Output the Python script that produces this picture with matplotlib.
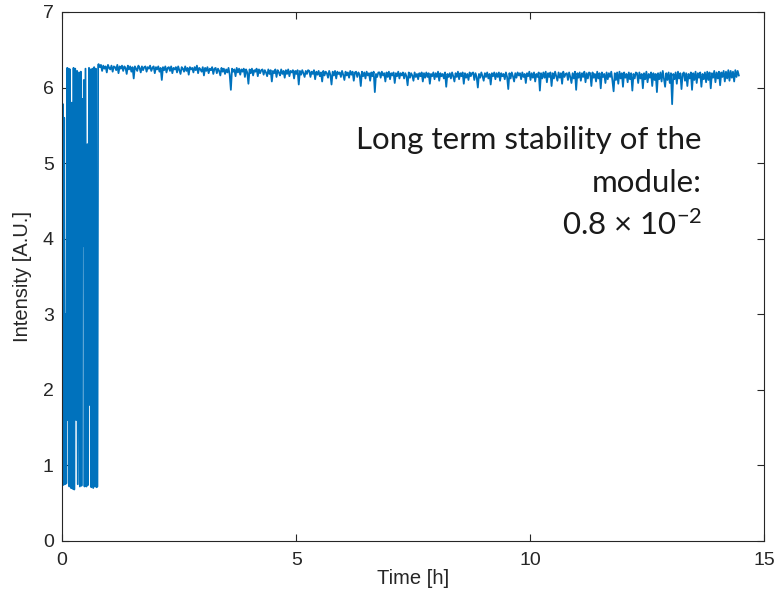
import numpy as np
import matplotlib
matplotlib.use("Agg")
import matplotlib.pyplot as plt

plt.rcParams['font.family'] = ['Liberation Sans', 'DejaVu Sans']
plt.rcParams['mathtext.fontset'] = 'custom'
plt.rcParams['mathtext.rm'] = 'Lato'
plt.rcParams['mathtext.default'] = 'regular'

# warm-up part: intensity jumps between low and high level
t_start = [0.000, 0.010, 0.020, 0.030, 0.045, 0.060, 0.075, 0.090, 0.110, 0.125,
           0.140, 0.155, 0.170, 0.190, 0.210, 0.225, 0.245, 0.260, 0.280, 0.300,
           0.320, 0.335, 0.360, 0.380, 0.400, 0.415, 0.435, 0.450, 0.465, 0.480,
           0.500, 0.520, 0.540, 0.555, 0.575, 0.590, 0.610, 0.625, 0.645, 0.665,
           0.685, 0.700, 0.720, 0.735, 0.755, 0.770]
i_start = [5.80, 0.76, 5.78, 0.74, 5.60, 0.75, 3.00, 0.76, 6.26, 1.60,
           6.25, 0.72, 6.24, 0.70, 5.80, 0.69, 6.26, 0.68, 6.25, 1.60,
           6.22, 0.75, 6.20, 0.72, 6.21, 0.73, 5.85, 3.90, 6.10, 0.72,
           6.25, 0.72, 5.25, 0.74, 6.26, 1.80, 6.24, 0.71, 6.25, 0.70,
           6.27, 0.72, 6.25, 0.71, 0.72, 6.30]

# stable part, one sample every 0.025 h starting at 0.78 h (20 samples per row)
t0_stable = 0.78
dt_stable = 0.025
i_stable = [
    6.31, 6.27, 6.30, 6.22, 6.29, 6.25, 6.28, 6.20, 6.30, 6.26, 6.24, 6.29, 6.21, 6.28, 6.27, 6.23, 6.30, 6.19, 6.28, 6.25,
    6.29, 6.22, 6.28, 6.26, 6.18, 6.29, 6.24, 6.28, 6.21, 6.27, 6.12, 6.28, 6.25, 6.22, 6.29, 6.26, 6.20, 6.28, 6.23, 6.27,
    6.28, 6.21, 6.27, 6.25, 6.29, 6.22, 6.26, 6.28, 6.19, 6.27, 6.24, 6.28, 6.21, 6.26, 6.10, 6.27, 6.23, 6.28, 6.20, 6.26,
    6.27, 6.22, 6.28, 6.19, 6.26, 6.24, 6.27, 6.20, 6.28, 6.23, 6.18, 6.27, 6.25, 6.21, 6.28, 6.22, 6.26, 6.17, 6.27, 6.24,
    6.26, 6.20, 6.27, 6.23, 6.29, 6.19, 6.26, 6.24, 6.21, 6.27, 6.16, 6.26, 6.22, 6.27, 6.19, 6.25, 6.23, 6.27, 6.18, 6.25,
    6.26, 6.19, 6.25, 6.22, 6.16, 6.26, 6.21, 6.25, 6.18, 6.24, 6.20, 6.26, 6.17, 5.97, 6.25, 6.21, 6.24, 6.15, 6.26, 6.20,
    6.25, 6.17, 6.24, 6.21, 6.25, 6.14, 6.24, 6.20, 6.05, 6.24, 6.19, 6.25, 6.16, 6.23, 6.21, 6.25, 6.15, 6.24, 6.19, 6.23,
    6.24, 6.17, 6.23, 6.20, 6.15, 6.24, 6.18, 6.23, 6.08, 6.22, 6.19, 6.24, 6.14, 6.23, 6.20, 6.16, 6.24, 6.18, 6.22, 6.13,
    6.23, 6.18, 6.24, 6.15, 6.22, 6.20, 6.23, 6.12, 6.22, 6.18, 6.23, 6.04, 6.22, 6.17, 6.23, 6.19, 6.14, 6.22, 6.18, 6.23,
    6.22, 6.14, 6.21, 6.18, 6.23, 6.11, 6.21, 6.17, 6.22, 6.15, 6.20, 6.08, 6.22, 6.16, 6.21, 6.19, 6.13, 6.22, 6.17, 6.04,
    6.21, 6.16, 6.22, 6.12, 6.21, 6.18, 6.20, 6.14, 6.22, 6.17, 6.10, 6.21, 6.16, 6.20, 6.13, 6.22, 6.17, 6.21, 6.09, 6.20,
    6.21, 6.14, 6.20, 6.17, 6.02, 6.21, 6.15, 6.20, 6.12, 6.21, 6.16, 6.19, 6.09, 6.20, 6.15, 6.21, 5.94, 6.18, 6.14, 6.20,
    6.20, 6.13, 6.21, 6.16, 6.19, 6.08, 6.20, 6.14, 6.21, 6.11, 6.19, 6.16, 6.20, 6.06, 6.19, 6.15, 6.21, 6.12, 6.19, 6.16,
    6.20, 6.12, 6.19, 6.15, 6.03, 6.20, 6.13, 6.19, 6.16, 6.09, 6.20, 6.14, 6.18, 6.11, 6.19, 6.15, 6.20, 6.08, 6.19, 6.13,
    6.20, 6.14, 6.19, 6.05, 6.18, 6.15, 6.20, 6.11, 6.19, 6.14, 6.21, 6.09, 6.19, 6.15, 6.18, 6.12, 6.20, 6.01, 6.18, 6.14,
    6.19, 6.12, 6.20, 6.15, 6.08, 6.19, 6.14, 6.21, 6.11, 6.19, 6.15, 6.20, 6.05, 6.19, 6.13, 6.18, 6.10, 6.20, 6.15, 6.19,
    6.20, 6.10, 6.19, 6.14, 6.00, 6.18, 6.13, 6.20, 6.15, 6.09, 6.19, 6.14, 6.20, 6.12, 6.18, 6.04, 6.19, 6.15, 6.20, 6.11,
    6.19, 6.14, 6.20, 6.09, 6.19, 6.15, 6.18, 6.11, 6.20, 6.14, 5.98, 6.19, 6.12, 6.20, 6.15, 6.08, 6.19, 6.13, 6.20, 6.16,
    6.19, 6.11, 6.20, 6.14, 6.18, 6.06, 6.19, 6.15, 6.21, 6.10, 6.19, 6.13, 6.20, 6.08, 6.18, 6.14, 6.20, 5.96, 6.19, 6.12,
    6.20, 6.13, 6.21, 6.07, 6.19, 6.14, 6.20, 6.02, 6.19, 6.12, 6.21, 6.15, 6.09, 6.20, 6.13, 6.19, 6.05, 6.21, 6.14, 6.18,
    6.19, 6.10, 6.20, 6.14, 6.06, 6.19, 6.12, 6.21, 5.97, 6.19, 6.13, 6.20, 6.09, 6.19, 6.14, 6.21, 6.07, 6.19, 6.12, 6.20,
    6.19, 6.02, 6.20, 6.13, 6.18, 6.08, 6.21, 6.12, 6.19, 5.99, 6.20, 6.14, 6.18, 6.06, 6.20, 6.11, 6.19, 6.14, 6.21, 6.09,
    5.95, 6.19, 6.10, 6.20, 6.05, 6.21, 6.12, 6.19, 6.01, 6.20, 6.13, 6.18, 6.07, 6.20, 6.11, 6.19, 5.96, 6.18, 6.12, 6.20,
    6.19, 6.06, 6.20, 6.12, 6.18, 5.99, 6.19, 6.11, 6.21, 6.07, 6.18, 6.13, 6.20, 6.02, 6.19, 6.10, 6.18, 5.94, 6.19, 6.11,
    6.20, 6.08, 6.22, 6.12, 6.01, 6.19, 6.10, 6.20, 6.06, 6.19, 5.78, 6.18, 6.11, 6.20, 6.05, 6.21, 6.12, 6.19, 5.98, 6.18,
    6.20, 6.09, 6.19, 6.02, 6.18, 6.12, 6.20, 5.97, 6.19, 6.10, 6.21, 6.06, 6.19, 6.13, 6.20, 6.01, 6.18, 6.11, 6.20, 6.07,
    6.21, 6.10, 6.20, 5.99, 6.19, 6.13, 6.22, 6.07, 6.20, 6.12, 6.21, 6.03, 6.20, 6.14, 6.22, 6.08, 6.21, 6.12, 6.23, 6.09,
    6.22, 6.13, 6.21, 6.08, 6.23, 6.14, 6.22, 6.16,
]

x_ticks = [0, 5, 10, 15]
y_ticks = [0, 1, 2, 3, 4, 5, 6, 7]

t_stable = t0_stable + dt_stable * np.arange(len(i_stable))
t = np.concatenate([t_start, t_stable])
y = np.concatenate([i_start, i_stable])

fig = plt.figure(figsize=(7.76, 5.99), dpi=100)
ax = fig.add_axes([0.080, 0.097, 0.905, 0.883])
ax.plot(t, y, color='#0072BD', linewidth=1.3)

ax.set_xlim(0, 15)
ax.set_ylim(0, 7)
ax.set_xticks(x_ticks)
ax.set_yticks(y_ticks)
ax.tick_params(direction='in', top=True, right=True, length=5,
               labelsize=14, colors='#262626')
ax.tick_params(axis='x', pad=8)
ax.tick_params(axis='y', pad=6)
for s in ax.spines.values():
    s.set_color('#262626')
    s.set_linewidth(0.8)
ax.set_xlabel('Time [h]', fontsize=14.5, color='#262626', labelpad=0)
ax.set_ylabel('Intensity [A.U.]', fontsize=14.5, color='#262626', labelpad=8)

note = dict(ha='right', va='center', fontsize=22.5, family='Lato', color='#1a1a1a')
fig.text(702 / 776, 1 - 140 / 599, 'Long term stability of the', **note)
fig.text(702 / 776, 1 - 183 / 599, 'module:', **note)
fig.text(702 / 776, 1 - 225 / 599, '0.8 \u00d7 10$^{-2}$', **note)

fig.savefig('out.png', dpi=100)
